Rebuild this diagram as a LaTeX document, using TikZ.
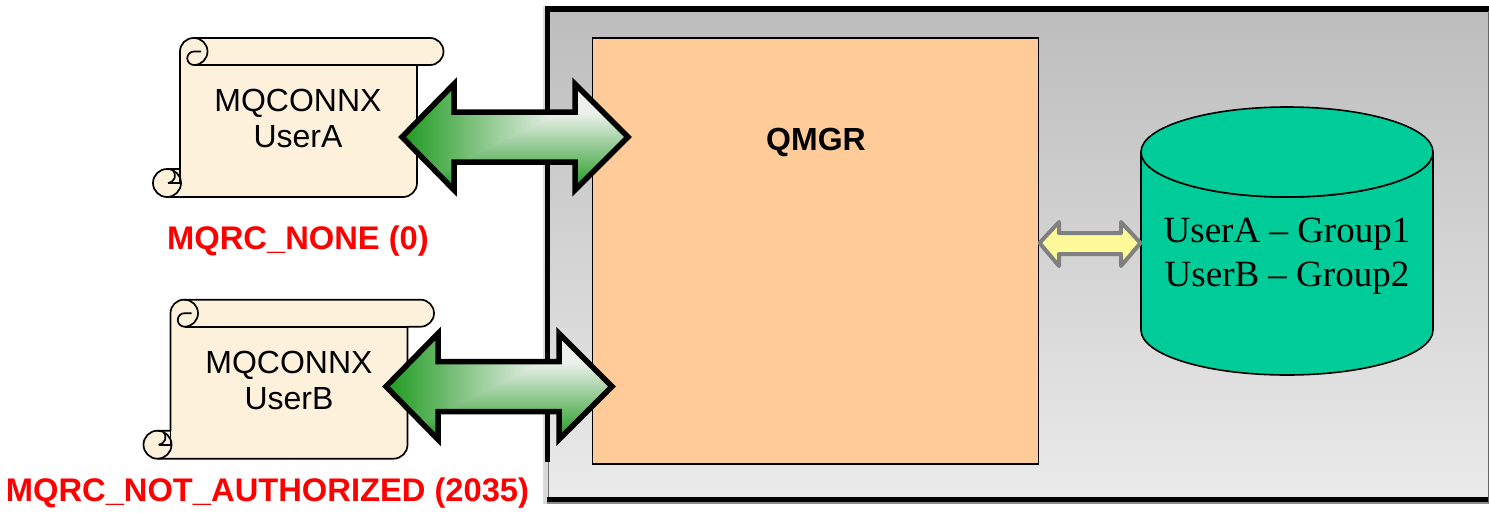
\documentclass[tikz,border=0pt]{standalone}
\usepackage{fontspec}
\setmainfont{Liberation Sans}
\newfontfamily\serifface{Liberation Serif}
\pgfdeclarefunctionalshading{arrowgreen}{\pgfpoint{-50bp}{-50bp}}{\pgfpoint{50bp}{50bp}}{}{
 25 add 36 div
 exch 25 add 34 div
 2 copy gt {exch} if pop
 dup 1 gt {pop 1} if
 dup 0 lt {pop 0} if
 dup 0.80 mul 0.12 add exch
 dup 0.34 mul 0.60 add exch
 0.80 mul 0.12 add
}
\definecolor{scrollfill}{HTML}{FDF1DC}
\definecolor{qmgrfill}{HTML}{FFCC99}
\definecolor{dbfill}{HTML}{00CC99}
\definecolor{redlabel}{HTML}{FF0000}
\tikzset{
  scrollline/.style={draw=black,line width=1.7pt,line join=round},
  blockarrow/.style={draw=black,line width=5.5pt,miter limit=10,shading=arrowgreen},
  labeltext/.style={font=\fontsize{32}{36}\selectfont,align=center,inner sep=0pt},
  dbtext/.style={font=\fontsize{37}{44}\serifface\selectfont,align=center,inner sep=0pt},
  redtext/.style={font=\fontsize{32.7}{36}\selectfont\bfseries,text=redlabel,inner sep=0pt},
}
\newcommand{\scrollshape}{%
  \path[fill=scrollfill,scrollline]
    (194,38) -- (430,38) arc[start angle=270,end angle=450,radius=13.5] -- (417,65)
    -- (417,183) arc[start angle=0,end angle=90,radius=14] -- (167,197)
    arc[start angle=90,end angle=270,radius=14] -- (180,169) -- (180,51.5)
    arc[start angle=180,end angle=270,radius=13.5] -- cycle;
  \draw[scrollline] (194,38) arc[start angle=270,end angle=450,radius=13.5]
    arc[start angle=90,end angle=270,radius=6.75] -- (201,51.5);
  \draw[scrollline] (194,65) -- (417,65);
  \draw[scrollline] (167,197) arc[start angle=90,end angle=-90,radius=14];
  \draw[scrollline] (180,169) -- (180,183) -- (168,183);
  \draw[scrollline] (173,170) .. controls (177,175) and (175,182) .. (168,183);
}
\newcommand{\blockpath}{%
  (402,137) -- (454,84) -- (454,112) -- (575,112) -- (575,84) -- (628,137)
  -- (575,190) -- (575,162) -- (454,162) -- (454,190) -- cycle}
\begin{document}
\begin{tikzpicture}[x=1pt,y=-1pt]
\useasboundingbox (0,0) rectangle (1489,512);
\fill[white] (0,0) rectangle (1489,512);
% group panel
\fill[black!15] (543,6) rectangle (548,504);
\fill[black!45] (547,502) rectangle (1489,503.5);
\shade[top color=black!26,bottom color=black!8] (548,9) rectangle (1489,500);
\fill[black] (545,6) rectangle (549.5,462);
\fill[black] (545,6) rectangle (1489,11.5);
\fill[black] (547,497) rectangle (1489,502);
\fill[black!55] (548,462) rectangle (549,497);
\fill[black!60] (1488,11) rectangle (1489,503);
% QMGR
\node[draw=black,line width=1.5pt,fill=qmgrfill,minimum width=446pt,minimum height=426pt,inner sep=0pt,outer sep=0pt,anchor=north west] (qmgr) at (592.7,38) {};
\node[font=\fontsize{32}{36}\selectfont\bfseries,inner sep=0pt] (qmgrlabel) at (816,142) {QMGR};
% database
\path[fill=dbfill,draw=black,line width=1.6pt] (1141,152) -- (1141,330)
  arc[start angle=180,end angle=0,x radius=146,y radius=45] -- (1433,152)
  arc[start angle=0,end angle=180,x radius=146,y radius=45] -- cycle;
\path[fill=dbfill,draw=black,line width=1.6pt] (1287,152) ellipse[x radius=146,y radius=45];
\node[dbtext] (dblabel) at (1287,256.5) {UserA – Group1\\UserB – Group2};
% yellow arrow
\path[fill=yellow!40,draw=black!50,line width=4pt,line join=round]
  (1039.5,243) -- (1059,222) -- (1059,233) -- (1121,233) -- (1121,222) -- (1140.5,243)
  -- (1121,266) -- (1121,254) -- (1059,254) -- (1059,266) -- cycle;
% scrolls
\scrollshape
\begin{scope}[shift={(-9.5,261.7)}]
\scrollshape
\end{scope}
\node[labeltext] (scrollA) at (298,118) {MQCONNX\\UserA};
\node[labeltext] (scrollB) at (289,380) {MQCONNX\\UserB};
% block arrows
\shadedraw[blockarrow] \blockpath;
\begin{scope}[shift={(-16,249.5)}]
\shadedraw[blockarrow] \blockpath;
\end{scope}
% labels
\node[redtext] (okmsg) at (298,241) {MQRC\_NONE (0)};
\node[redtext] (errmsg) at (267.5,493) {MQRC\_NOT\_AUTHORIZED (2035)};
\end{tikzpicture}
\end{document}
